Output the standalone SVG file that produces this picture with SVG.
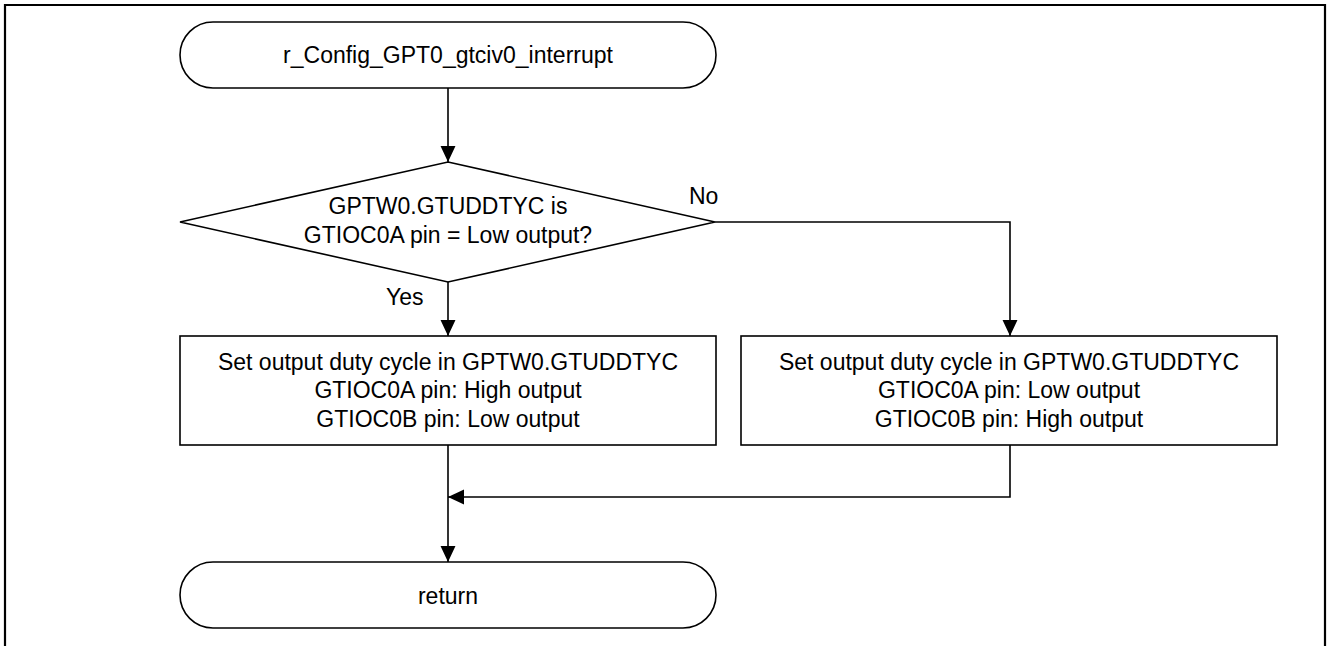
<svg xmlns="http://www.w3.org/2000/svg" width="1328" height="646" viewBox="0 0 1328 646">
<style>
  .shape { fill: #ffffff; stroke: #000000; stroke-width: 1.6; }
  .conn { fill: none; stroke: #000000; stroke-width: 1.6; }
  .t { font-family: "Liberation Sans", Arial, sans-serif; font-size: 23px; fill: #000000; text-anchor: middle; }
  .lbl { font-family: "Liberation Sans", Arial, sans-serif; font-size: 23px; fill: #000000; }
</style>
<defs>
  <marker id="arrow" markerUnits="userSpaceOnUse" markerWidth="16" markerHeight="16" viewBox="0 0 15 14" refX="15" refY="7" orient="auto">
    <path d="M0,0 L15,7 L0,14 Z" fill="#000000"/>
  </marker>
</defs>
<rect width="1328" height="646" fill="#ffffff"/>
<path d="M5,646 V5 H1325 V646" fill="none" stroke="#000000" stroke-width="2.2"/>

<g id="start">
  <rect class="shape" x="180" y="22" width="536" height="66" rx="33" ry="33"/>
  <text class="t" x="448" y="63">r_Config_GPT0_gtciv0_interrupt</text>
</g>

<g id="decision">
  <polygon class="shape" points="448,162 715,222 448,282 180,222"/>
  <text class="t" x="448" y="214">GPTW0.GTUDDTYC is</text>
  <text class="t" x="448" y="243">GTIOC0A pin = Low output?</text>
</g>

<g id="box-yes">
  <rect class="shape" x="180" y="336" width="536" height="109"/>
  <text class="t" x="448" y="370">Set output duty cycle in GPTW0.GTUDDTYC</text>
  <text class="t" x="448" y="398">GTIOC0A pin: High output</text>
  <text class="t" x="448" y="427">GTIOC0B pin: Low output</text>
</g>

<g id="box-no">
  <rect class="shape" x="741" y="336" width="536" height="109"/>
  <text class="t" x="1009" y="370">Set output duty cycle in GPTW0.GTUDDTYC</text>
  <text class="t" x="1009" y="398">GTIOC0A pin: Low output</text>
  <text class="t" x="1009" y="427">GTIOC0B pin: High output</text>
</g>

<g id="end">
  <rect class="shape" x="180" y="562" width="536" height="66" rx="33" ry="33"/>
  <text class="t" x="448" y="604">return</text>
</g>

<g id="connectors">
  <path class="conn" d="M448,88 V162" marker-end="url(#arrow)"/>
  <path class="conn" d="M448,282 V336" marker-end="url(#arrow)"/>
  <path class="conn" d="M715,222 H1010 V336" marker-end="url(#arrow)"/>
  <path class="conn" d="M448,445 V562" marker-end="url(#arrow)"/>
  <path class="conn" d="M1010,445 V497 H448" marker-end="url(#arrow)"/>
  <text class="lbl" x="689" y="204">No</text>
  <text class="lbl" x="386" y="305">Yes</text>
</g>
</svg>
